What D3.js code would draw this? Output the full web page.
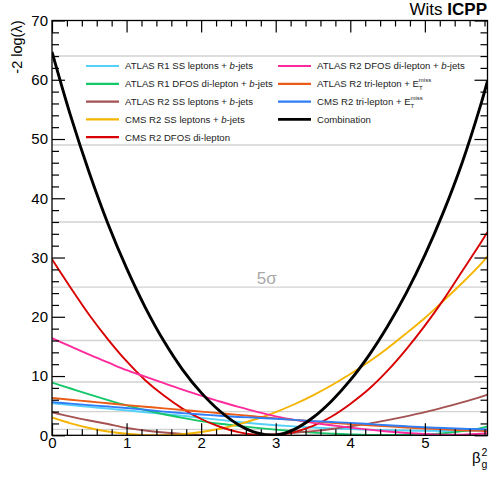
<!DOCTYPE html>
<html>
<head>
<meta charset="utf-8">
<script src="https://cdn.jsdelivr.net/npm/d3@7"></script>
<style>
  html, body { margin: 0; padding: 0; background: #fff; }
  svg { display: block; font-family: "Liberation Sans", Arial, Helvetica, sans-serif; }
</style>
</head>
<body>
<svg id="chart" width="489" height="477"></svg>
<script>
// ---- data ----
const betaSq = [0, 0.25, 0.5, 0.75, 1, 1.25, 1.5, 1.75, 2, 2.25, 2.5, 2.75, 3, 3.25, 3.5, 3.75, 4, 4.25, 4.5, 4.75, 5, 5.25, 5.5, 5.75, 5.84];

const atlasR1SS   = [5.4, 5.1, 4.8, 4.5, 4.2, 3.9, 3.6, 3.3, 2.95, 2.6, 2.25, 1.95, 1.7, 1.5, 1.32, 1.17, 1.05, 0.95, 0.87, 0.8, 0.75, 0.73, 0.74, 0.78, 0.8];
const atlasR1DFOS = [8.9, 7.9, 6.9, 5.95, 5.05, 4.25, 3.55, 2.95, 2.4, 1.95, 1.6, 1.25, 0.95, 0.68, 0.45, 0.28, 0.15, 0.07, 0.04, 0.06, 0.15, 0.35, 0.7, 1.2, 1.5];
const atlasR2SS   = [3.9, 3.15, 2.5, 1.9, 1.25, 0.8, 0.47, 0.22, 0.07, 0.01, 0.01, 0.07, 0.21, 0.42, 0.7, 1.06, 1.5, 1.98, 2.56, 3.2, 3.9, 4.7, 5.57, 6.5, 6.87];
const cmsR2SS     = [3.0, 2.02, 1.24, 0.65, 0.25, 0.03, 0.02, 0.19, 0.55, 1.1, 1.85, 2.79, 3.92, 5.24, 6.75, 8.45, 10.34, 12.4, 14.7, 17.2, 19.8, 22.7, 25.7, 28.9, 30.2];
const cmsR2DFOS   = [29.7, 24.9, 20.3, 16.2, 12.5, 9.3, 6.7, 4.5, 2.75, 1.44, 0.54, 0.08, 0.04, 0.54, 1.58, 3.18, 5.3, 7.8, 10.9, 14.5, 18.5, 22.9, 27.7, 32.5, 34.3];
const atlasR2DFOS = [16.4, 15.0, 13.6, 12.3, 11.0, 9.9, 8.8, 7.7, 6.7, 5.7, 4.8, 3.95, 3.2, 2.6, 2.1, 1.7, 1.3, 0.95, 0.65, 0.4, 0.22, 0.12, 0.12, 0.25, 0.35];
const atlasR2Tri  = [6.3, 6.0, 5.7, 5.4, 5.1, 4.82, 4.55, 4.27, 4.0, 3.72, 3.45, 3.15, 2.85, 2.6, 2.35, 2.12, 1.9, 1.7, 1.5, 1.32, 1.15, 1.0, 0.85, 0.75, 0.7];
const cmsR2Tri    = [5.6, 5.35, 5.1, 4.85, 4.6, 4.3, 4.0, 3.75, 3.5, 3.3, 3.1, 2.95, 2.8, 2.6, 2.4, 2.25, 2.1, 1.9, 1.7, 1.52, 1.35, 1.22, 1.1, 1.02, 1.0];
const combination = [64.7, 53.9, 44.3, 35.7, 28.2, 21.6, 15.9, 11.1, 7.2, 4.1, 1.8, 0.4, 0.02, 1.0, 3.0, 5.8, 9.3, 13.5, 18.4, 24.0, 30.4, 37.7, 46.0, 55.8, 59.8];

const sigmaLevels = [1, 4, 9, 16, 25, 36, 49, 64];
const xTicks = [0, 1, 2, 3, 4, 5];
const yTicks = [0, 10, 20, 30, 40, 50, 60, 70];

const seriesList = [
  { key: "atlasR1SS",   values: atlasR1SS,   color: "#55d0f8", label: [["ATLAS R1 SS leptons + ", ""], ["b", "i"], ["-jets", ""]] },
  { key: "atlasR1DFOS", values: atlasR1DFOS, color: "#14c86a", label: [["ATLAS R1 DFOS di-lepton + ", ""], ["b", "i"], ["-jets", ""]] },
  { key: "atlasR2SS",   values: atlasR2SS,   color: "#a45252", label: [["ATLAS R2 SS leptons + ", ""], ["b", "i"], ["-jets", ""]] },
  { key: "cmsR2SS",     values: cmsR2SS,     color: "#f5b400", label: [["CMS R2 SS leptons + ", ""], ["b", "i"], ["-jets", ""]] },
  { key: "cmsR2DFOS",   values: cmsR2DFOS,   color: "#d80000", label: [["CMS R2 DFOS di-lepton", ""]] },
  { key: "atlasR2DFOS", values: atlasR2DFOS, color: "#ff2a9c", label: [["ATLAS R2 DFOS di-lepton + ", ""], ["b", "i"], ["-jets", ""]] },
  { key: "atlasR2Tri",  values: atlasR2Tri,  color: "#ea5c18", label: [["ATLAS R2 tri-lepton + E", ""], ["", "met"]] },
  { key: "cmsR2Tri",    values: cmsR2Tri,    color: "#2f7ef6", label: [["CMS R2 tri-lepton + E", ""], ["", "met"]] },
  { key: "combination", values: combination, color: "#000000", label: [["Combination", ""]] }
];

// ---- layout ----
const svg = d3.select("#chart");
const L = 52, R = 487.5, T = 20.5, B = 435.3;

const x = d3.scaleLinear().domain([0, 5.84]).range([L, R]);
const y = d3.scaleLinear().domain([0, 70]).range([B, T]);

svg.append("defs").append("clipPath").attr("id", "plotclip")
  .append("rect").attr("x", L).attr("y", T).attr("width", R - L).attr("height", B - T);

// sigma grid lines
svg.append("g").selectAll("line").data(sigmaLevels).join("line")
  .attr("x1", L).attr("x2", R)
  .attr("y1", d => y(d)).attr("y2", d => y(d))
  .attr("stroke", "#d2d2d2").attr("stroke-width", 1.4);

// 5 sigma label
svg.append("text").attr("x", x(2.88)).attr("y", y(25) - 3.5)
  .attr("text-anchor", "middle").attr("fill", "#a8a8a8")
  .attr("font-size", 17).text("5σ");

// curves
const line = d3.line().x((d, i) => x(betaSq[i])).y(d => y(d)).curve(d3.curveCatmullRom.alpha(0.5));
const gCurves = svg.append("g").attr("clip-path", "url(#plotclip)");
seriesList.forEach(s => {
  gCurves.append("path").datum(s.values)
    .attr("d", line).attr("fill", "none")
    .attr("stroke", s.color)
    .attr("stroke-width", s.key === "combination" ? 2.9 : 1.9)
    .attr("stroke-linejoin", "round");
});

// frame
svg.append("rect").attr("x", L).attr("y", T).attr("width", R - L).attr("height", B - T)
  .attr("fill", "none").attr("stroke", "#000").attr("stroke-width", 1.3);

// axes (inward ticks, ROOT style)
const xMinor = d3.range(0, 5.84, 0.2).filter(v => Math.abs(v - Math.round(v)) > 1e-6);
const yMinor = d3.range(0, 70.01, 2).filter(v => v % 10 !== 0);

function styleAxis(g) {
  g.select(".domain").remove();
  g.selectAll(".tick line").attr("stroke", "#000").attr("stroke-width", 1.2);
  g.selectAll("text").attr("font-size", 15).attr("fill", "#000")
    .attr("font-family", "'Liberation Sans', Arial, sans-serif");
}

svg.append("g").attr("transform", `translate(0,${B})`)
  .call(d3.axisBottom(x).tickValues(xTicks).tickSize(-12).tickPadding(2).tickFormat(d3.format("d"))).call(styleAxis);
svg.append("g").attr("transform", `translate(0,${B})`)
  .call(d3.axisBottom(x).tickValues(xMinor).tickSize(-6).tickFormat("")).call(styleAxis);
svg.append("g").attr("transform", `translate(0,${T})`)
  .call(d3.axisTop(x).tickValues(xTicks).tickSize(-12).tickFormat("")).call(styleAxis);
svg.append("g").attr("transform", `translate(0,${T})`)
  .call(d3.axisTop(x).tickValues(xMinor).tickSize(-6).tickFormat("")).call(styleAxis);

svg.append("g").attr("transform", `translate(${L},0)`)
  .call(d3.axisLeft(y).tickValues(yTicks).tickSize(-13).tickPadding(4).tickFormat(d3.format("d"))).call(styleAxis);
svg.append("g").attr("transform", `translate(${L},0)`)
  .call(d3.axisLeft(y).tickValues(yMinor).tickSize(-7).tickFormat("")).call(styleAxis);
svg.append("g").attr("transform", `translate(${R},0)`)
  .call(d3.axisRight(y).tickValues(yTicks).tickSize(-13).tickFormat("")).call(styleAxis);
svg.append("g").attr("transform", `translate(${R},0)`)
  .call(d3.axisRight(y).tickValues(yMinor).tickSize(-7).tickFormat("")).call(styleAxis);

// axis titles
svg.append("text").attr("transform", `translate(22,${T}) rotate(-90)`)
  .attr("text-anchor", "end").attr("font-size", 14.5).attr("fill", "#000")
  .text("-2 log(λ)");

const xt = svg.append("text").attr("x", 472).attr("y", 463).attr("font-size", 15).attr("fill", "#000");
xt.append("tspan").text("β");
svg.append("text").attr("x", 481.5).attr("y", 468).attr("font-size", 10.5).text("g");
svg.append("text").attr("x", 481.5).attr("y", 456).attr("font-size", 10.5).text("2");

// header
const hdr = svg.append("text").attr("x", 487).attr("y", 15).attr("text-anchor", "end")
  .attr("font-size", 17).attr("fill", "#000");
hdr.append("tspan").text("Wits ");
hdr.append("tspan").attr("font-weight", "bold").text("ICPP");

// legend
const legCols = [{ lx: 86, tx: 125 }, { lx: 278, tx: 317 }];
const rowY = [66, 83.8, 101.6, 119.4, 137.2];
seriesList.forEach((s, i) => {
  const col = i < 5 ? 0 : 1;
  const row = i < 5 ? i : i - 5;
  const cy = rowY[row];
  const c = legCols[col];
  svg.append("line").attr("x1", c.lx).attr("x2", c.lx + 33).attr("y1", cy).attr("y2", cy)
    .attr("stroke", s.color).attr("stroke-width", s.key === "combination" ? 2.8 : 2.2);
  const t = svg.append("text").attr("x", c.tx).attr("y", cy + 3.4)
    .attr("font-size", 9.6).attr("fill", "#222");
  s.label.forEach(([txt, st]) => {
    if (st === "met") {
      t.append("tspan").attr("font-size", 6).attr("dy", 3).text("T");
      t.append("tspan").attr("font-size", 6).attr("dx", -3.8).attr("dy", -8.5).text("miss");
    } else {
      const ts = t.append("tspan").text(txt);
      if (st === "i") ts.attr("font-style", "italic");
    }
  });
});
</script>
</body>
</html>
